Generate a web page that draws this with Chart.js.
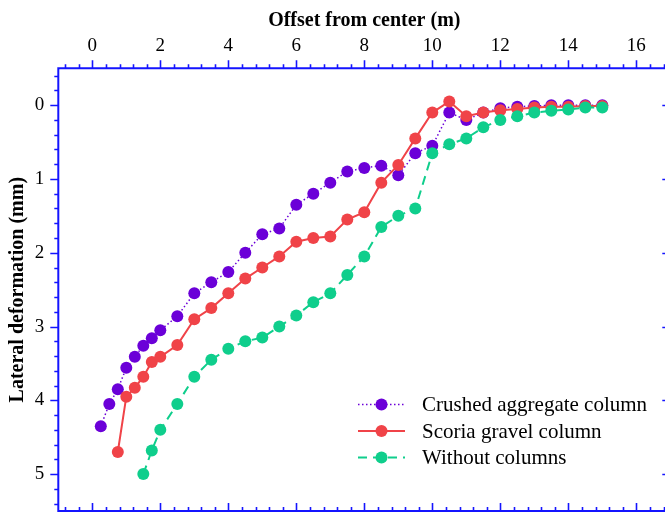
<!DOCTYPE html>
<html>
<head>
<meta charset="utf-8">
<script src="https://cdn.jsdelivr.net/npm/chart.js@4"></script>
<style>
  html, body { margin: 0; padding: 0; overflow: hidden; background: #fff; width: 665px; height: 513px; }
  #wrap { position: absolute; left: 0; top: 0; width: 680px; height: 517px; }
</style>
</head>
<body>
<div id="wrap"><canvas id="c" width="680" height="517"></canvas></div>
<script>
// Offset from the column centre (m) and measured lateral deformation (mm)
const crushedOffset = [0.25, 0.5, 0.75, 1.0, 1.25, 1.5, 1.75, 2.0, 2.5, 3.0, 3.5, 4.0, 4.5, 5.0, 5.5, 6.0, 6.5, 7.0, 7.5, 8.0, 8.5, 9.0, 9.5, 10.0, 10.5, 11.0, 11.5, 12.0, 12.5, 13.0, 13.5, 14.0, 14.5, 15.0];
const crushedDeform = [4.35, 4.05, 3.85, 3.56, 3.41, 3.26, 3.16, 3.05, 2.86, 2.55, 2.40, 2.26, 2.00, 1.75, 1.67, 1.35, 1.20, 1.05, 0.90, 0.85, 0.82, 0.95, 0.65, 0.55, 0.10, 0.20, 0.10, 0.04, 0.02, 0.01, 0.00, 0.00, 0.00, 0.00];

const scoriaOffset = [0.75, 1.0, 1.25, 1.5, 1.75, 2.0, 2.5, 3.0, 3.5, 4.0, 4.5, 5.0, 5.5, 6.0, 6.5, 7.0, 7.5, 8.0, 8.5, 9.0, 9.5, 10.0, 10.5, 11.0, 11.5, 12.0, 12.5, 13.0, 13.5, 14.0, 14.5, 15.0];
const scoriaDeform = [4.70, 3.95, 3.83, 3.68, 3.48, 3.41, 3.25, 2.90, 2.75, 2.55, 2.35, 2.20, 2.05, 1.85, 1.80, 1.78, 1.55, 1.45, 1.05, 0.81, 0.45, 0.10, -0.05, 0.15, 0.10, 0.07, 0.05, 0.03, 0.02, 0.02, 0.01, 0.01];

const plainOffset = [1.5, 1.75, 2.0, 2.5, 3.0, 3.5, 4.0, 4.5, 5.0, 5.5, 6.0, 6.5, 7.0, 7.5, 8.0, 8.5, 9.0, 9.5, 10.0, 10.5, 11.0, 11.5, 12.0, 12.5, 13.0, 13.5, 14.0, 14.5, 15.0];
const plainDeform = [5.00, 4.68, 4.40, 4.05, 3.68, 3.45, 3.30, 3.20, 3.15, 3.00, 2.85, 2.67, 2.55, 2.30, 2.05, 1.65, 1.50, 1.40, 0.65, 0.53, 0.45, 0.30, 0.20, 0.15, 0.10, 0.075, 0.06, 0.03, 0.03];

const seriesNames = ['Crushed aggregate column', 'Scoria gravel column', 'Without columns'];
const xTickValues = [0, 2, 4, 6, 8, 10, 12, 14, 16];
const yTickValues = [0, 1, 2, 3, 4, 5];

const AXIS_BLUE = '#1414ff';
const SERIF = "'Liberation Serif', 'Times New Roman', serif";
Chart.defaults.font.family = SERIF;

const toPoints = (xs, ys) => xs.map((x, i) => ({ x: x, y: ys[i] }));

// Frame with major/minor ticks: out on top/left, in on bottom/right
const frameAxes = {
  id: 'frameAxes',
  afterDraw(chart) {
    const { ctx, chartArea: a, scales: { x, y } } = chart;
    ctx.save();
    ctx.strokeStyle = AXIS_BLUE;
    ctx.lineWidth = 2;
    ctx.beginPath();
    ctx.rect(a.left, a.top, a.right - a.left, a.bottom - a.top);
    ctx.stroke();
    ctx.lineWidth = 1.6;
    ctx.beginPath();
    for (let k = Math.ceil(x.min / 0.4); k * 0.4 <= x.max + 1e-9; k++) {
      const v = +(k * 0.4).toFixed(2);
      if (Math.abs(v - x.min) < 1e-6 || Math.abs(v - x.max) < 1e-6) continue;
      const major = Math.abs(v / 2 - Math.round(v / 2)) < 1e-6;
      const len = major ? 8 : 4;
      const px = Math.round(x.getPixelForValue(v)) + 0.5;
      ctx.moveTo(px, a.top); ctx.lineTo(px, a.top - len);
      ctx.moveTo(px, a.bottom); ctx.lineTo(px, a.bottom - len);
    }
    for (let k = Math.ceil(y.min / 0.2); k * 0.2 <= y.max + 1e-9; k++) {
      const v = +(k * 0.2).toFixed(2);
      if (Math.abs(v - y.min) < 1e-6 || Math.abs(v - y.max) < 1e-6) continue;
      const major = Math.abs(v - Math.round(v)) < 1e-6;
      const len = major ? 8 : 4;
      const py = Math.round(y.getPixelForValue(v)) + 0.5;
      ctx.moveTo(a.left, py); ctx.lineTo(a.left - len, py);
      ctx.moveTo(a.right, py); ctx.lineTo(a.right - len, py);
    }
    ctx.stroke();
    ctx.restore();
  }
};

// Legend rows: line sample with a marker, then the series name
const sampleLegend = {
  id: 'sampleLegend',
  afterDraw(chart) {
    const ctx = chart.ctx;
    const rowsY = [404.5, 431, 457.5];
    const lineX0 = 358, lineX1 = 405, markX = 381.5, textX = 422;
    ctx.save();
    chart.data.datasets.forEach((ds, i) => {
      const yy = rowsY[i];
      ctx.strokeStyle = ds.borderColor;
      ctx.lineWidth = ds.borderWidth;
      ctx.setLineDash(ds.borderDash || []);
      ctx.beginPath();
      ctx.moveTo(lineX0, yy); ctx.lineTo(lineX1, yy);
      ctx.stroke();
      ctx.setLineDash([]);
      ctx.fillStyle = ds.pointBackgroundColor;
      ctx.beginPath();
      ctx.arc(markX, yy, ds.pointRadius, 0, Math.PI * 2);
      ctx.fill();
      ctx.fillStyle = '#000';
      ctx.font = "21px " + SERIF;
      ctx.textAlign = 'left';
      ctx.textBaseline = 'middle';
      ctx.fillText(ds.label, textX, yy + 1);
    });
    ctx.restore();
  }
};

const purple = '#6b00d8', red = '#f04348', green = '#0fce8c';

new Chart(document.getElementById('c'), {
  type: 'line',
  data: {
    datasets: [
      { label: seriesNames[0], data: toPoints(crushedOffset, crushedDeform), borderColor: purple, backgroundColor: purple,
        pointBackgroundColor: purple, pointBorderColor: purple, borderWidth: 1.5, borderDash: [1.5, 2.5],
        pointRadius: 6, pointBorderWidth: 0, order: 3 },
      { label: seriesNames[1], data: toPoints(scoriaOffset, scoriaDeform), borderColor: red, backgroundColor: red,
        pointBackgroundColor: red, pointBorderColor: red, borderWidth: 2,
        pointRadius: 6, pointBorderWidth: 0, order: 2 },
      { label: seriesNames[2], data: toPoints(plainOffset, plainDeform), borderColor: green, backgroundColor: green,
        pointBackgroundColor: green, pointBorderColor: green, borderWidth: 2, borderDash: [9, 6],
        pointRadius: 6, pointBorderWidth: 0, order: 1 }
    ]
  },
  options: {
    responsive: false,
    maintainAspectRatio: false,
    animation: false,
    layout: { padding: { left: 0, top: 0, right: 9.7, bottom: 1.5 } },
    plugins: { legend: { display: false }, tooltip: { enabled: false } },
    elements: { line: { tension: 0 } },
    scales: {
      x: {
        type: 'linear', position: 'top', min: -1, max: 17,
        grid: { display: false, drawTicks: false }, border: { display: false },
        ticks: { color: '#000', font: { size: 19 }, padding: 11, maxRotation: 0 },
        title: { display: true, text: 'Offset from center (m)', color: '#000',
                 font: { size: 20, weight: 'bold' }, padding: { top: 9, bottom: 0 } },
        afterBuildTicks: s => { s.ticks = xTickValues.map(v => ({ value: v })); },
        afterFit: s => { s.height = 68.3; s.paddingLeft = 0; s.paddingRight = 0; }
      },
      y: {
        type: 'linear', position: 'left', reverse: true, min: -0.5, max: 5.5,
        grid: { display: false, drawTicks: false }, border: { display: false },
        ticks: { color: '#000', font: { size: 19 }, padding: 14 },
        title: { display: true, text: 'Lateral deformation (mm)', color: '#000',
                 font: { size: 20, weight: 'bold' }, padding: { top: 6, bottom: 0 } },
        afterBuildTicks: s => { s.ticks = yTickValues.map(v => ({ value: v })); },
        afterFit: s => { s.width = 58.3; s.paddingTop = 0; s.paddingBottom = 0; }
      }
    }
  },
  plugins: [frameAxes, sampleLegend]
});
</script>
</body>
</html>
